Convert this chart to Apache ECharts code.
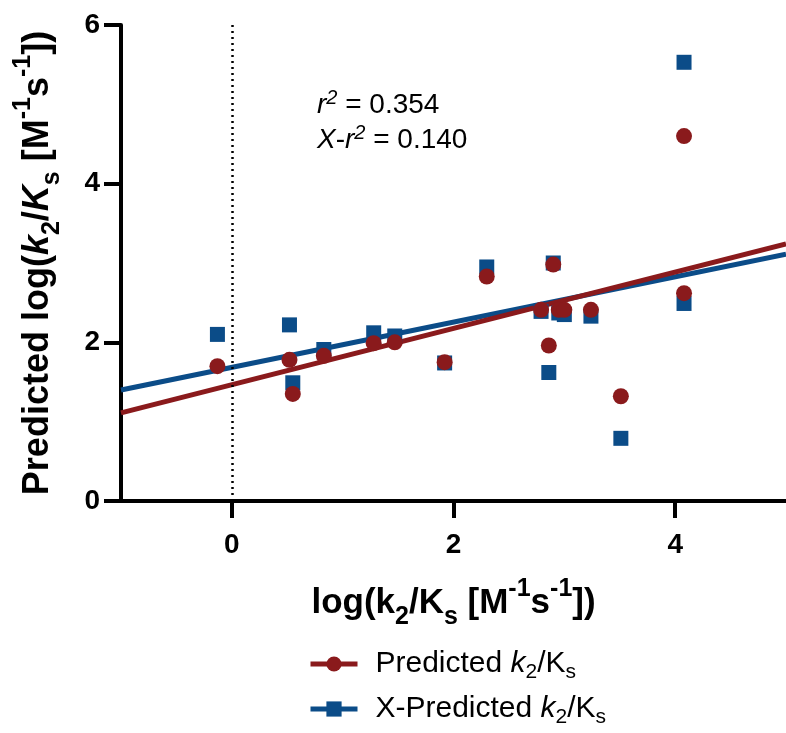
<!DOCTYPE html>
<html><head><meta charset="utf-8">
<script src="https://cdn.jsdelivr.net/npm/echarts@6/dist/echarts.min.js"></script>
<style>html,body{margin:0;padding:0;background:#fff}#c{width:786px;height:733px}</style>
</head><body><div id="c"></div>
<script>
// Data
const xActual = [-0.13, 0.52, 0.55, 0.83, 1.28, 1.47, 1.92, 2.30, 2.79, 2.86, 2.90, 2.95, 3.00, 3.24, 3.51, 4.08, 4.08];
const predicted = [1.70, 1.78, 1.35, 1.83, 1.99, 2.00, 1.75, 2.83, 2.41, 1.96, 2.98, 2.41, 2.41, 2.41, 1.32, 4.60, 2.62];
const xPredicted = [2.10, 2.22, 1.49, 1.91, 2.12, 2.08, 1.74, 2.95, 2.39, 1.62, 3.00, 2.37, 2.35, 2.33, 0.79, 5.53, 2.49];
const fitPredicted = [[-1, 1.11], [5, 3.24]];
const fitXPredicted = [[-1, 1.40], [5, 3.11]];
const xTicks = [0, 2, 4];
const yTicks = [0, 2, 4, 6];
const r2Predicted = '0.354';
const r2XPredicted = '0.140';

const RED = '#8A1A1C';
const BLUE = '#0B4C88';
const FONT = 'Arial, "Liberation Sans", Helvetica, sans-serif';

const chart = echarts.init(document.getElementById('c'), null, {renderer: 'canvas'});
const pairs = (ys) => xActual.map((x, i) => [x, ys[i]]);

function richSet(size, bold, color, lhOverride, shiftOverride) {
  const w = bold ? 'bold' : 'normal';
  const small = Math.round(size * 0.7);
  const lh = lhOverride || Math.round(size * 1.5);
  const shift = shiftOverride || Math.round(size * 0.22);
  const slh = lh - 2 * shift;
  return {
    b: {fontSize: size, fontWeight: w, fontFamily: FONT, color: color, fill: color, lineHeight: lh},
    bi: {fontSize: size, fontWeight: w, fontStyle: 'italic', fontFamily: FONT, color: color, fill: color, lineHeight: lh},
    bs: {fontSize: small, fontWeight: w, fontFamily: FONT, color: color, fill: color, lineHeight: slh, verticalAlign: 'bottom'},
    bp: {fontSize: small, fontWeight: w, fontFamily: FONT, color: color, fill: color, lineHeight: slh, verticalAlign: 'top'},
    bpi: {fontSize: small, fontWeight: w, fontStyle: 'italic', fontFamily: FONT, color: color, fill: color, lineHeight: slh, verticalAlign: 'top'}
  };
}

chart.setOption({
  animation: false,
  backgroundColor: '#fff',
  grid: {left: 121, right: -4, top: 25, bottom: 232, containLabel: false},
  xAxis: {
    type: 'value', min: -1, max: 5,
    axisLine: {onZero: false, lineStyle: {color: '#000', width: 4}},
    axisTick: {show: true, customValues: xTicks, length: 17, lineStyle: {color: '#000', width: 4}},
    axisLabel: {customValues: xTicks, margin: 30, fontSize: 28, fontWeight: 'bold', fontFamily: FONT, color: '#000'},
    splitLine: {show: false},
    name: '{b|log(k}{bs|2}{b|/K}{bs|s}{b| [M}{bp|-1}{b|s}{bp|-1}{b|])}',
    nameLocation: 'middle', nameGap: 76,
    nameTextStyle: {rich: richSet(35, true, '#000')}
  },
  yAxis: {
    type: 'value', min: 0, max: 6, interval: 2,
    axisLine: {show: true, onZero: false, lineStyle: {color: '#000', width: 4}},
    axisTick: {show: true, length: 17, lineStyle: {color: '#000', width: 4}},
    axisLabel: {margin: 21, fontSize: 28, fontWeight: 'bold', fontFamily: FONT, color: '#000'},
    splitLine: {show: false},
    name: '{b|Predicted log(}{bi|k}{bs|2}{b|/}{bi|K}{bs|s}{b| [M}{bp|-1}{b|s}{bp|-1}{b|])}',
    nameLocation: 'middle', nameGap: 56, nameRotate: 90,
    nameTextStyle: {rich: richSet(36, true, '#000')}
  },
  legend: {
    orient: 'vertical', left: 303, top: 644, bottom: 0, itemGap: 11,
    itemWidth: 47, itemHeight: 19,
    data: ['Predicted k2/Ks', 'X-Predicted k2/Ks'],
    lineStyle: {width: 5},
    formatter: (name) => name.startsWith('X')
      ? '{b|X-Predicted }{bi|k}{bs|2}{b|/K}{bs|s}'
      : '{b|Predicted }{bi|k}{bs|2}{b|/K}{bs|s}',
    textStyle: {padding: [0, 0, 0, 13], rich: richSet(30, false, '#000', 38, 7)}
  },
  graphic: [{
    type: 'text', left: 317, top: 88,
    style: {
      text: '{bi|r}{bpi|2}{b| = ' + r2Predicted + '}\n{bi|X}{b|-}{bi|r}{bpi|2}{b| = ' + r2XPredicted + '}',
      rich: richSet(28, false, '#000', 35, 5)
    }
  }],
  series: [
    {
      name: 'X-Predicted k2/Ks', type: 'line', data: fitXPredicted,
      symbol: 'rect', showSymbol: false, color: BLUE,
      lineStyle: {color: BLUE, width: 5}, itemStyle: {color: BLUE}, z: 2,
      markLine: {
        silent: true, symbol: 'none', label: {show: false},
        lineStyle: {color: '#000', type: [2, 4], width: 2.5},
        data: [{xAxis: 0}]
      }
    },
    {
      name: 'Predicted k2/Ks', type: 'line', data: fitPredicted,
      symbol: 'circle', showSymbol: false, color: RED,
      lineStyle: {color: RED, width: 5}, itemStyle: {color: RED}, z: 2
    },
    {
      name: 'X-Predicted points', type: 'scatter', data: pairs(xPredicted),
      symbol: 'rect', symbolSize: 15, itemStyle: {color: BLUE, opacity: 1}, z: 3
    },
    {
      name: 'Predicted points', type: 'scatter', data: pairs(predicted),
      symbol: 'circle', symbolSize: 16, itemStyle: {color: RED, opacity: 1}, z: 4
    }
  ]
});
</script></body></html>
